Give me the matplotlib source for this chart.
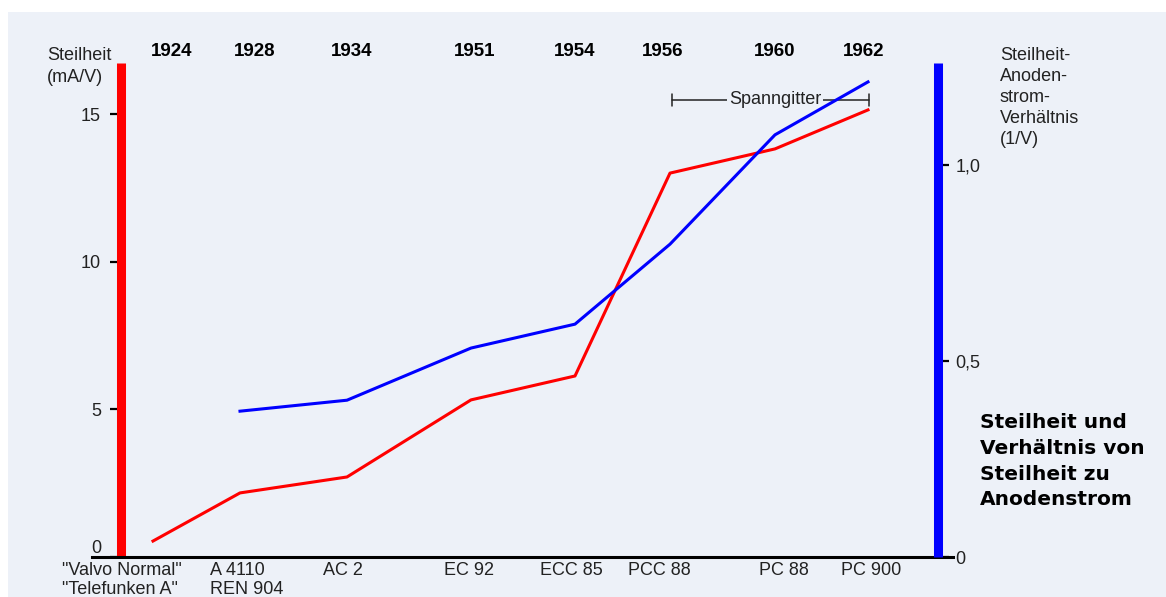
#!/usr/bin/env python3
import matplotlib
matplotlib.use("Agg")
from matplotlib import pyplot as plt
from matplotlib.patches import Rectangle

# tubes in chronological order
years = ["1924", "1928", "1934", "1951", "1954", "1956", "1960", "1962"]
tubes = ['"Valvo Normal"\n"Telefunken A"', "A 4110\nREN 904", "AC 2", "EC 92",
         "ECC 85", "PCC 88", "PC 88", "PC 900"]
# position of each tube along the (non-linear) time axis
tube_x = [153, 240, 347, 471, 575, 670, 775, 868]
year_x = [172, 255, 352, 475, 575, 663, 775, 864]
label_x = [122, 247, 343, 469, 571, 659, 784, 871]

# Steilheit in mA/V
steilheit = [0.54, 2.17, 2.71, 5.32, 6.13, 13.0, 13.82, 15.14]
# Steilheit/Anodenstrom in 1/V (no value for 1924)
verhaeltnis = [None, 0.372, 0.40, 0.533, 0.594, 0.798, 1.077, 1.212]

left_ticks = [0, 5, 10, 15]
right_ticks = [0, 0.5, 1.0]
right_ticklabels = ["0", "0,5", "1,0"]

bg = "#EDF1F8"
W, H = 1166, 597
fig = plt.figure(figsize=(W / 100, H / 100), dpi=100)
fig.patch.set_facecolor("white")
fig.patches.append(Rectangle((8 / W, 0), 1, 1 - 12 / H, transform=fig.transFigure,
                             facecolor=bg, edgecolor="none", zorder=-10))

plt.rcParams["font.family"] = ["Liberation Sans", "DejaVu Sans"]
fs = 13

x0, x1, ybot, ytop = 92, 953, 557, 63
ax = fig.add_axes([x0 / W, 1 - ybot / H, (x1 - x0) / W, (ybot - ytop) / H])
ax.set_facecolor("none")
ax.set_xlim(x0, x1)
ax.set_ylim(0, (ybot - ytop) / 29.53)

ax2 = ax.twinx()
ax2.set_ylim(0, (ybot - ytop) / 392.0)
ax2.set_facecolor("none")

for a in (ax, ax2):
    for s in a.spines.values():
        s.set_visible(False)

ax.spines["bottom"].set_visible(True)
ax.spines["bottom"].set_color("black")
ax.spines["bottom"].set_linewidth(2.2)
ax.spines["left"].set_visible(True)
ax.spines["left"].set_position(("axes", (120.5 - x0) / (x1 - x0)))
ax.spines["left"].set_color("#FF0000")
ax.spines["left"].set_linewidth(6.5)
ax.spines["left"].set_capstyle("butt")
ax2.spines["right"].set_visible(True)
ax2.spines["right"].set_position(("axes", (937.5 - x0) / (x1 - x0)))
ax2.spines["right"].set_color("#0000FF")
ax2.spines["right"].set_linewidth(6.5)
ax2.spines["right"].set_capstyle("butt")

ax.set_xticks([])
ax.set_yticks(left_ticks)
ax.tick_params(axis="y", length=8, width=1.6, color="black", pad=6, labelsize=fs,
               labelcolor="#222222")
ax.get_yticklabels()[0].set_verticalalignment("bottom")
ax2.set_yticks(right_ticks)
ax2.set_yticklabels(right_ticklabels)
ax2.tick_params(axis="y", length=8, width=1.6, color="black", pad=5, labelsize=fs,
                labelcolor="#222222")

ax.plot(tube_x, steilheit, color="#FF0000", linewidth=2.2, zorder=5)
bx = [x for x, v in zip(tube_x, verhaeltnis) if v is not None]
bv = [v for v in verhaeltnis if v is not None]
ax2.plot(bx, bv, color="#0000FF", linewidth=2.2, zorder=5)

# Spanngitter bracket
ys = (ybot - 100) / 29.53
ax.annotate("", xy=(672, ys), xytext=(869, ys),
            arrowprops=dict(arrowstyle="|-|,widthA=0.45,widthB=0.45", color="#222222", lw=1.1,
                            shrinkA=0, shrinkB=0), zorder=1)
ax.text(775, ys, "Spanngitter", ha="center", va="center", fontsize=fs, color="#222222",
        bbox=dict(facecolor=bg, edgecolor="none", pad=1), zorder=2)

tr = ax.get_xaxis_transform()
for x, y in zip(year_x, years):
    ax.text(x, (ybot - 51) / (ybot - ytop), y, ha="center", va="center", fontsize=13.5,
            fontweight="bold", transform=tr, clip_on=False)
for x, t in zip(label_x, tubes):
    ax.text(x, (ybot - 562) / (ybot - ytop), t, ha="center", va="top", fontsize=fs,
            multialignment="left", linespacing=1.12, color="#222222", transform=tr,
            clip_on=False)

fig.text(47 / W, 1 - 47 / H, "Steilheit\n(mA/V)", ha="left", va="top", fontsize=fs,
         linespacing=1.4, color="#222222")
fig.text(1000 / W, 1 - 47 / H, "Steilheit-\nAnoden-\nstrom-\nVerhältnis\n(1/V)",
         ha="left", va="top", fontsize=fs, linespacing=1.3, color="#222222")
fig.text(980 / W, 1 - 413 / H, "Steilheit und\nVerhältnis von\nSteilheit zu\nAnodenstrom",
         ha="left", va="top", fontsize=14.5, fontweight="bold", family="DejaVu Sans",
         linespacing=1.45)

fig.savefig("out.png", dpi=100)
